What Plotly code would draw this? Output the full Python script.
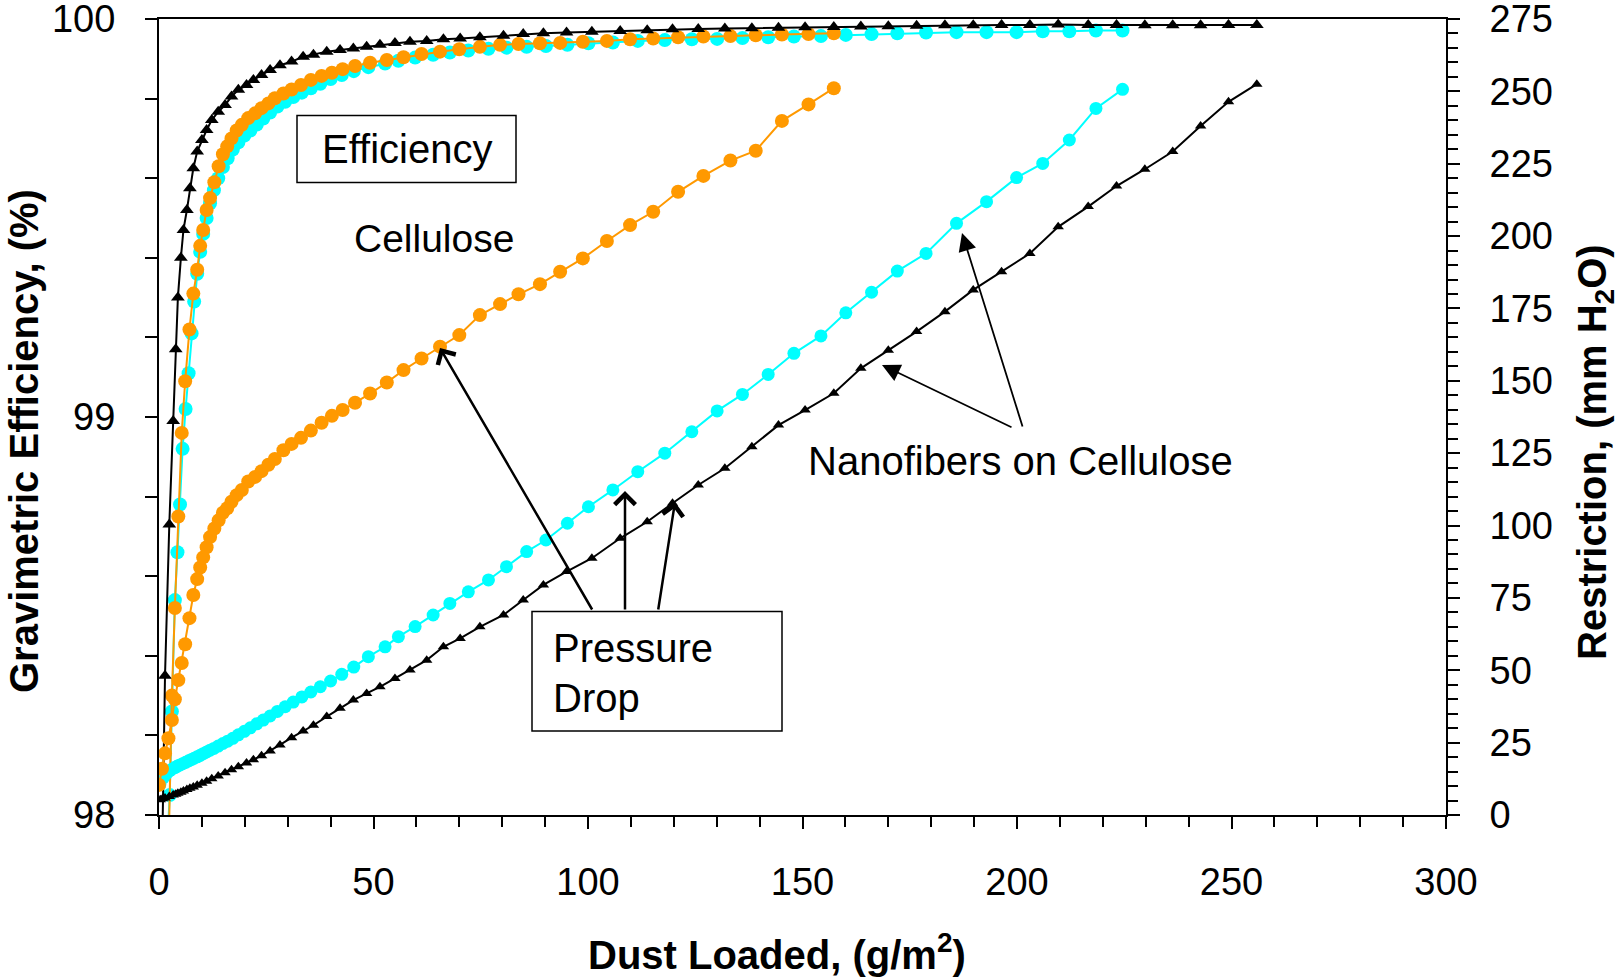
import plotly.graph_objects as go

# ---------------- data ----------------
# Cellulose (orange circles)
cell_x = [0.0, 0.7, 1.4, 2.2, 3.0, 3.7, 4.5, 5.3, 6.1, 7.1, 8.0, 8.9, 9.6, 10.3, 11.1,
          11.9, 12.9, 13.9, 14.9, 15.9, 16.9, 18.1, 19.3, 20.8, 22.4, 23.9, 25.5, 27.0, 29.0, 30.9,
          33.1, 35.4, 37.9, 40.3, 42.8, 45.7, 49.2, 53.1, 57.0, 61.2, 65.5, 70.0, 74.8, 79.5, 83.8,
          88.8, 93.5, 98.8, 104.4, 109.8, 115.2, 121.0, 126.9, 133.2, 139.1, 145.2, 151.4, 157.3]
cell_eff = [None, None, None, 97.9, 98.30, 98.52, 98.75, 98.96, 99.09, 99.22, 99.31, 99.37, 99.43, 99.47, 99.52,
            99.55, 99.59, 99.63, 99.66, 99.68, 99.70, 99.72, 99.734, 99.751, 99.763, 99.776, 99.788, 99.801, 99.813, 99.823,
            99.834, 99.847, 99.857, 99.865, 99.874, 99.882, 99.890, 99.897, 99.904, 99.912, 99.918, 99.924, 99.930, 99.935, 99.937,
            99.939, 99.940, 99.943, 99.945, 99.949, 99.951, 99.954, 99.956, 99.957, 99.959, 99.961, 99.962, 99.964]
cell_res = [10.4, 16.0, 21.3, 26.5, 32.8, 40.0, 46.6, 52.5, 59.0, 68.0, 76.0, 81.5, 85.5, 89.0, 92.5,
            96.0, 99.0, 101.8, 104.4, 106.0, 108.2, 110.5, 112.3, 115.2, 116.8, 118.8, 121.0, 123.0, 126.0, 128.2,
            130.3, 132.8, 135.5, 137.9, 139.9, 142.4, 145.6, 149.4, 153.7, 157.7, 161.8, 165.8, 172.7, 176.5, 179.9,
            183.4, 187.7, 192.3, 198.3, 203.8, 208.4, 215.3, 220.8, 226.1, 229.5, 239.8, 245.5, 251.1]

# Nanofibers on cellulose, sample 1 (cyan circles)
nf1_x = [0.2, 1.0, 1.8, 2.5, 3.0, 3.7, 4.3, 4.9, 5.5, 6.2, 6.9, 7.6, 8.2, 8.9, 9.6,
         10.3, 11.1, 11.9, 12.8, 13.8, 14.9, 16.0, 17.2, 18.5, 19.9, 21.3, 22.8, 24.3, 25.9, 27.6,
         29.4, 31.3, 33.3, 35.4, 37.6, 40.0, 42.6, 45.4, 48.8, 52.7, 55.8, 59.7, 63.9, 67.8, 72.1,
         76.8, 81.0, 85.7, 90.2, 95.2, 100.1, 105.8, 111.6, 117.9, 124.2, 130.1, 136.0, 142.0, 148.0, 154.3,
         160.1, 166.1, 172.1, 178.8, 185.9, 192.9, 199.9, 206.0, 212.2, 218.4, 224.6]
nf1_eff = [None, None, 97.9, 98.05, 98.26, 98.54, 98.66, 98.78, 98.92, 99.02, 99.11, 99.21, 99.29, 99.36, 99.415,
           99.46, 99.50, 99.537, 99.57, 99.60, 99.628, 99.65, 99.672, 99.69, 99.707, 99.72, 99.735, 99.75, 99.765, 99.78,
           99.792, 99.804, 99.815, 99.826, 99.837, 99.849, 99.859, 99.869, 99.879, 99.888, 99.895, 99.903, 99.910, 99.916, 99.921,
           99.925, 99.928, 99.930, 99.932, 99.935, 99.939, 99.941, 99.945, 99.947, 99.949, 99.950, 99.952, 99.954, 99.956, 99.957,
           99.960, 99.962, 99.964, 99.966, 99.967, 99.967, 99.967, 99.969, 99.969, 99.971, 99.971]
nf1_res = [10.5, 12.8, 14.4, 15.3, 15.8, 16.4, 16.9, 17.3, 17.7, 18.2, 18.7, 19.2, 19.6, 20.1, 20.6,
           21.2, 21.8, 22.4, 23.0, 23.8, 24.7, 25.5, 26.5, 27.7, 28.9, 30.1, 31.5, 32.8, 34.2, 35.8,
           37.4, 39.0, 40.8, 42.5, 44.3, 46.3, 48.6, 51.1, 54.7, 58.1, 61.6, 65.1, 69.1, 73.1, 77.1,
           81.2, 85.8, 91.0, 95.0, 100.8, 106.5, 112.3, 118.6, 125.0, 132.4, 139.6, 145.3, 152.2, 159.5, 165.5,
           173.5, 180.6, 187.9, 194.0, 204.4, 211.9, 220.2, 225.1, 233.2, 244.1, 250.7]

# Nanofibers on cellulose, sample 2 (black triangles)
nf2_x = [0.3, 0.8, 1.4, 2.4, 3.3, 3.9, 4.4, 5.1, 5.7, 6.5, 7.2, 8.0, 8.9, 10.0, 11.1,
         12.3, 13.8, 15.4, 16.9, 18.5, 20.4, 22.0, 23.9, 25.9, 28.2, 30.9, 33.6, 36.0, 39.1, 42.2,
         45.3, 48.4, 51.5, 55.0, 58.5, 62.4, 66.3, 70.2, 74.8, 80.3, 84.9, 89.6, 95.0, 100.9, 107.5,
         113.8, 119.7, 125.7, 131.9, 138.2, 144.4, 150.6, 157.3, 163.6, 170.0, 176.6, 183.2, 189.8, 196.4, 203.0,
         209.6, 216.6, 223.2, 229.8, 236.3, 242.8, 249.3, 255.9]
nf2_eff = [None, 97.95, 98.35, 98.73, 98.99, 99.17, 99.30, 99.40, 99.47, 99.52, 99.575, 99.625, 99.667, 99.696, 99.721,
           99.746, 99.767, 99.784, 99.805, 99.822, 99.834, 99.847, 99.859, 99.872, 99.884, 99.893, 99.905, 99.910, 99.918, 99.922,
           99.926, 99.930, 99.935, 99.940, 99.943, 99.945, 99.949, 99.951, 99.954, 99.958, 99.962, 99.964, 99.966, 99.968, 99.970,
           99.972, 99.974, 99.975, 99.976, 99.977, 99.978, 99.979, 99.980, 99.981, 99.982, 99.983, 99.984, 99.984, 99.985, 99.985,
           99.986, 99.985, 99.985, 99.984, 99.984, 99.984, 99.985, 99.985]
nf2_res = [5.3, 5.6, 5.9, 6.4, 6.9, 7.2, 7.5, 7.9, 8.3, 8.8, 9.2, 9.7, 10.3, 11.0, 11.7,
           12.5, 13.5, 14.6, 15.6, 16.7, 18.0, 19.1, 20.5, 22.1, 24.2, 26.7, 29.0, 31.0, 34.0, 36.9,
           39.7, 42.0, 44.3, 47.2, 50.1, 53.5, 58.1, 61.0, 65.0, 69.1, 74.3, 79.5, 84.1, 88.7, 95.6,
           101.3, 107.7, 114.0, 119.8, 127.2, 134.7, 139.9, 145.7, 154.3, 160.6, 167.0, 173.9, 181.4, 187.7, 194.0,
           203.2, 210.2, 217.3, 223.1, 229.2, 238.0, 246.4, 252.5]

# axis settings
x_range = [0, 300]
eff_range = [98, 100]
res_range = [0, 275]

# ---------------- layout geometry ----------------
W, H = 1617, 980
L, R, T, B = 159, 1446, 19, 815


def px(x):
    return (x - L) / (R - L)


def py(y):
    return (B - y) / (B - T)


FONT = "Liberation Sans, Arial, sans-serif"
ORANGE = "#FF9900"
CYAN = "#00FFFF"
BLACK = "#000000"

fig = go.Figure()

# efficiency curves (left axis)
fig.add_trace(go.Scatter(x=nf1_x, y=nf1_eff, yaxis="y", mode="lines+markers",
                         line=dict(color=CYAN, width=2), marker=dict(symbol="circle", size=14, color=CYAN)))
fig.add_trace(go.Scatter(x=cell_x, y=cell_eff, yaxis="y", mode="lines+markers",
                         line=dict(color=ORANGE, width=2), marker=dict(symbol="circle", size=14, color=ORANGE)))
fig.add_trace(go.Scatter(x=nf2_x, y=nf2_eff, yaxis="y", mode="lines+markers",
                         line=dict(color=BLACK, width=2), marker=dict(symbol="triangle-up", size=12, color=BLACK)))
# restriction curves (right axis)
fig.add_trace(go.Scatter(x=nf1_x, y=nf1_res, yaxis="y2", mode="lines+markers",
                         line=dict(color=CYAN, width=2), marker=dict(symbol="circle", size=13, color=CYAN)))
fig.add_trace(go.Scatter(x=cell_x, y=cell_res, yaxis="y2", mode="lines+markers",
                         line=dict(color=ORANGE, width=2), marker=dict(symbol="circle", size=14, color=ORANGE)))
fig.add_trace(go.Scatter(x=nf2_x, y=nf2_res, yaxis="y2", mode="lines+markers",
                         line=dict(color=BLACK, width=2), marker=dict(symbol="triangle-up", size=10, color=BLACK)))

tickfont = dict(family=FONT, size=38, color="black")

fig.update_layout(
    width=W, height=H,
    margin=dict(l=L, r=W - R, t=T, b=H - B, pad=0, autoexpand=False),
    paper_bgcolor="white", plot_bgcolor="white",
    showlegend=False,
    font=dict(family=FONT, color="black"),
    xaxis=dict(range=x_range, dtick=50, tick0=0, ticks="outside", ticklen=12, tickwidth=2, tickcolor="black",
               minor=dict(dtick=10, ticks="outside", ticklen=10, tickwidth=1.5, tickcolor="black"),
               showline=True, linewidth=2, linecolor="black", mirror=True,
               showgrid=False, zeroline=False, tickfont=tickfont, ticklabelstandoff=20,
               ticklabeloverflow="allow", automargin=False),
    xaxis2=dict(range=x_range, dtick=50, tick0=0, overlaying="x", anchor="y", side="bottom",
                ticks="inside", ticklen=12, tickwidth=2, tickcolor="black", automargin=False,
                showticklabels=False, showline=False, showgrid=False, zeroline=False),
    yaxis=dict(range=eff_range, dtick=1, tick0=98, ticks="outside", ticklen=12, tickwidth=2, tickcolor="black",
               minor=dict(dtick=0.2, ticks="outside", ticklen=12, tickwidth=1.5, tickcolor="black"),
               showline=True, linewidth=2, linecolor="black",
               showgrid=False, zeroline=False, tickfont=tickfont, ticklabelstandoff=22,
               ticklabeloverflow="allow", automargin=False),
    yaxis2=dict(range=res_range, dtick=25, tick0=0, overlaying="y", side="right", anchor="x",
                ticks="outside", ticklen=12, tickwidth=2, tickcolor="black",
                minor=dict(dtick=5, ticks="outside", ticklen=10, tickwidth=1.5, tickcolor="black"),
                showline=True, linewidth=2, linecolor="black",
                showgrid=False, zeroline=False, tickfont=tickfont, ticklabelstandoff=22,
                ticklabeloverflow="allow", automargin=False),
    yaxis3=dict(range=eff_range, dtick=1, tick0=98, overlaying="y", side="left", anchor="x",
                ticks="inside", ticklen=12, tickwidth=2, tickcolor="black", automargin=False,
                showticklabels=False, showline=False, showgrid=False, zeroline=False),
    yaxis4=dict(range=res_range, dtick=25, tick0=0, overlaying="y", side="right", anchor="x",
                ticks="inside", ticklen=12, tickwidth=2, tickcolor="black", automargin=False,
                showticklabels=False, showline=False, showgrid=False, zeroline=False),
)

annotations = []
shapes = []

# axis titles
annotations.append(dict(text="<b>Dust Loaded, (g/m<sup>2</sup>)</b>", xref="paper", yref="paper",
                        x=px(777), y=py(952), xanchor="center", yanchor="middle", showarrow=False,
                        font=dict(family=FONT, size=40, color="black")))
annotations.append(dict(text="<b>Gravimetric Efficiency, (%)</b>", xref="paper", yref="paper",
                        x=px(24), y=py(441), xanchor="center", yanchor="middle", showarrow=False, textangle=-90,
                        font=dict(family=FONT, size=40, color="black")))
annotations.append(dict(text="<b>Restriction, (mm H<sub>2</sub>O)</b>", xref="paper", yref="paper",
                        x=px(1595), y=py(452), xanchor="center", yanchor="middle", showarrow=False, textangle=-90,
                        font=dict(family=FONT, size=40, color="black")))

# text labels in the plot
shapes.append(dict(type="rect", xref="paper", yref="paper", x0=px(297), x1=px(516), y0=py(182.5), y1=py(115.5),
                   line=dict(color="black", width=1.5), fillcolor="white", layer="above"))
annotations.append(dict(text="Efficiency", xref="paper", yref="paper", x=px(406.5), y=py(149),
                        xanchor="center", yanchor="middle", showarrow=False,
                        font=dict(family=FONT, size=40, color="black")))
annotations.append(dict(text="Cellulose", xref="paper", yref="paper", x=px(434), y=py(239),
                        xanchor="center", yanchor="middle", showarrow=False,
                        font=dict(family=FONT, size=39, color="black")))
annotations.append(dict(text="Nanofibers on Cellulose", xref="paper", yref="paper", x=px(1020), y=py(461),
                        xanchor="center", yanchor="middle", showarrow=False,
                        font=dict(family=FONT, size=40, color="black")))
shapes.append(dict(type="rect", xref="paper", yref="paper", x0=px(532), x1=px(782), y0=py(731), y1=py(611.5),
                   line=dict(color="black", width=1.5), fillcolor="white", layer="above"))
annotations.append(dict(text="Pressure", xref="paper", yref="paper", x=px(551), y=py(648),
                        xanchor="left", yanchor="middle", showarrow=False,
                        font=dict(family=FONT, size=40, color="black")))
annotations.append(dict(text="Drop", xref="paper", yref="paper", x=px(551), y=py(698),
                        xanchor="left", yanchor="middle", showarrow=False,
                        font=dict(family=FONT, size=40, color="black")))

# arrows: (tail_x, tail_y, head_x, head_y, head style, width, head size)
arrows = [
    (593, 611, 440, 348, 4, 2.5, 1.6),
    (625, 611, 625, 491, 4, 2.5, 1.6),
    (658, 611, 675, 502, 4, 2.5, 1.6),
    (1023, 428, 962, 233, 2, 1.8, 2.0),
    (1013, 428, 882, 365, 2, 1.8, 2.0),
]
for tx, ty, hx, hy, head, w, hs in arrows:
    annotations.append(dict(text="", xref="paper", yref="paper", x=px(hx), y=py(hy),
                            ax=tx - hx, ay=ty - hy, axref="pixel", ayref="pixel",
                            showarrow=True, arrowhead=head, arrowsize=hs, arrowwidth=w,
                            arrowcolor="black", standoff=0, startstandoff=0))

fig.update_layout(annotations=annotations, shapes=shapes)

fig.write_html("out.html", config={"displayModeBar": False},
               post_script="document.body.style.margin='0';document.body.style.overflow='hidden';")
